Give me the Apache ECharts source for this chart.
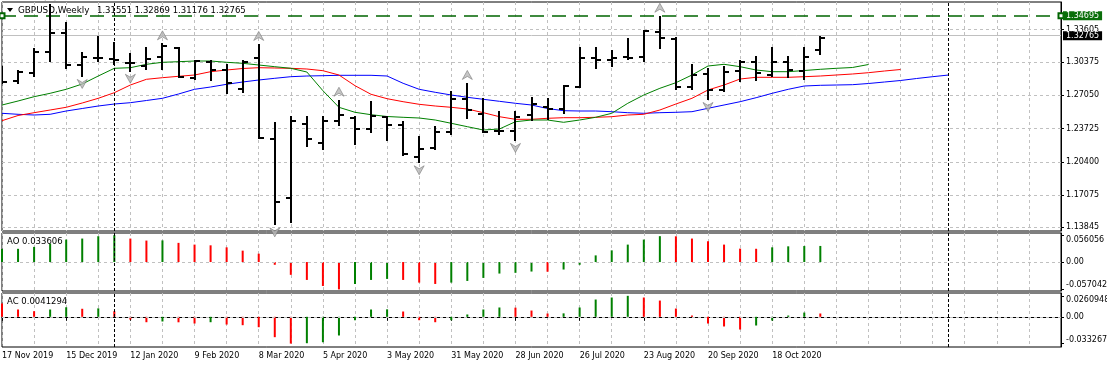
<!DOCTYPE html>
<html><head><meta charset="utf-8">
<script src="https://cdn.jsdelivr.net/npm/echarts@6/dist/echarts.min.js"></script>
<style>html,body{margin:0;padding:0;background:#fff}#c{width:1107px;height:368px}</style>
</head><body><div id="c"></div>
<script>
// ---- categories (weekly bars) ----
const categories = ['17 Nov 2019','24 Nov 2019','1 Dec 2019','8 Dec 2019','15 Dec 2019','22 Dec 2019','29 Dec 2019',
'5 Jan 2020','12 Jan 2020','19 Jan 2020','26 Jan 2020','2 Feb 2020','9 Feb 2020','16 Feb 2020','23 Feb 2020',
'1 Mar 2020','8 Mar 2020','15 Mar 2020','22 Mar 2020','29 Mar 2020','5 Apr 2020','12 Apr 2020','19 Apr 2020','26 Apr 2020',
'3 May 2020','10 May 2020','17 May 2020','24 May 2020','31 May 2020','7 Jun 2020','14 Jun 2020','21 Jun 2020','28 Jun 2020',
'5 Jul 2020','12 Jul 2020','19 Jul 2020','26 Jul 2020','2 Aug 2020','9 Aug 2020','16 Aug 2020','23 Aug 2020','30 Aug 2020',
'6 Sep 2020','13 Sep 2020','20 Sep 2020','27 Sep 2020','4 Oct 2020','11 Oct 2020','18 Oct 2020','25 Oct 2020',
'1 Nov 2020','8 Nov 2020','15 Nov 2020','22 Nov 2020','29 Nov 2020','6 Dec 2020','13 Dec 2020','20 Dec 2020','27 Dec 2020',
'3 Jan 2021','10 Jan 2021','17 Jan 2021','24 Jan 2021','31 Jan 2021','7 Feb 2021','14 Feb 2021','21 Feb 2021'];
const lastBarIndex = 51;

// ---- OHLC ----
const opens  = [1.2897,1.2848,1.2924,1.3141,1.3325,1.3008,1.3075,1.3064,1.3030,1.3000,1.3090,1.3175,1.2882,1.3041,1.2958,1.2764,1.3075,1.2264,1.1674,1.2418,1.2231,1.2450,1.2480,1.2365,1.2484,1.2408,1.2090,1.2175,1.2338,1.2668,1.2515,1.2345,1.2345,1.2508,1.2585,1.2565,1.2785,1.3075,1.3055,1.3090,1.3090,1.3340,1.3268,1.2791,1.2918,1.2758,1.2948,1.3041,1.2908,1.3041,1.2948,1.31551];
const highs  = [1.2991,1.2951,1.3164,1.3610,1.3425,1.3125,1.3285,1.3225,1.3114,1.3174,1.3214,1.3181,1.3047,1.3048,1.3004,1.3051,1.3208,1.2424,1.2484,1.2487,1.2484,1.2650,1.2487,1.2640,1.2490,1.2433,1.2291,1.2391,1.2740,1.2818,1.2668,1.2541,1.2534,1.2674,1.2668,1.2800,1.3174,1.3174,1.3150,1.3267,1.3350,1.3490,1.3275,1.3008,1.2964,1.2984,1.3048,1.3084,1.3174,1.3084,1.3174,1.32869];
const lows   = [1.2831,1.2825,1.2898,1.3050,1.2975,1.2898,1.3050,1.3015,1.2950,1.2964,1.2967,1.2884,1.2870,1.2858,1.2724,1.2740,1.2274,1.1414,1.1440,1.2201,1.2165,1.2405,1.2219,1.2340,1.2258,1.2108,1.2035,1.2164,1.2314,1.2475,1.2335,1.2318,1.2258,1.2458,1.2465,1.2524,1.2785,1.2980,1.3000,1.3064,1.3050,1.3174,1.2764,1.2764,1.2668,1.2747,1.2848,1.2858,1.2898,1.2891,1.2864,1.31176];
const closes = [1.2841,1.2941,1.3134,1.3325,1.3008,1.3085,1.3081,1.3058,1.3024,1.3064,1.3200,1.2890,1.3043,1.2958,1.2830,1.3041,1.2280,1.1640,1.2450,1.2268,1.2450,1.2505,1.2365,1.2498,1.2408,1.2120,1.2164,1.2340,1.2668,1.2558,1.2342,1.2352,1.2485,1.2615,1.2565,1.2798,1.3080,1.3060,1.3077,1.3075,1.3347,1.3280,1.2785,1.2908,1.2758,1.2941,1.3041,1.2924,1.3041,1.2958,1.3091,1.32765];

// ---- Alligator (already shifted forward) ----
const jaw   = [1.25245,1.25145,1.25075,1.25145,1.25475,1.25725,1.25975,1.26175,1.26305,1.26525,1.26745,1.27175,1.27645,1.27875,1.28145,1.28375,1.28575,1.28745,1.28905,1.28975,1.29005,1.29045,1.29045,1.29045,1.28975,1.28245,1.27645,1.27345,1.27075,1.26845,1.26645,1.26445,1.26245,1.26075,1.25725,1.25505,1.25475,1.25475,1.25405,1.25305,1.25245,1.25305,1.25345,1.25405,1.25745,1.26075,1.26405,1.26805,1.27245,1.27645,1.27975,1.28045,1.28075,1.28105,1.28225,1.28375,1.28525,1.28725,1.28905,1.29075];
const teeth = [1.24505,1.25025,1.25305,1.25575,1.25845,1.26275,1.26745,1.27305,1.28075,1.28645,1.28805,1.28945,1.29075,1.29405,1.29575,1.29725,1.29805,1.29775,1.29745,1.29675,1.29505,1.29075,1.28005,1.27145,1.26705,1.26405,1.26145,1.25975,1.25845,1.25675,1.25305,1.24905,1.24645,1.24645,1.24745,1.24805,1.24805,1.24845,1.24905,1.25075,1.25145,1.25575,1.26175,1.26745,1.27575,1.28075,1.28675,1.28845,1.28845,1.28845,1.28905,1.28975,1.29075,1.29175,1.29305,1.29475,1.29625];
const lips  = [1.26075,1.26475,1.26905,1.27245,1.27645,1.28175,1.28975,1.29745,1.29805,1.30145,1.30345,1.30405,1.30475,1.30475,1.30345,1.30245,1.30075,1.29905,1.29745,1.29375,1.27505,1.25845,1.25345,1.25105,1.24925,1.24845,1.24775,1.24575,1.24245,1.23905,1.23575,1.23675,1.24405,1.24575,1.24575,1.24345,1.24575,1.24845,1.25245,1.26245,1.27075,1.27745,1.28305,1.29075,1.29975,1.30145,1.29905,1.29575,1.29405,1.29405,1.29525,1.29645,1.29745,1.29825,1.30125];

// ---- Fractals (bar indices) ----
const fractalUpIdx   = [3,10,16,21,29,41];
const fractalDownIdx = [5,8,17,26,32,44];

// ---- Awesome / Accelerator oscillators ----
const aoValues = [0.0274,0.0276,0.0316,0.0385,0.0469,0.0490,0.0539,0.056056,0.0490,0.0448,0.0452,0.0400,0.0364,0.0349,0.0307,0.0238,0.0175,-0.0057,-0.0267,-0.0373,-0.0499,-0.057042,-0.0457,-0.0373,-0.0352,-0.0373,-0.0429,-0.0457,-0.0429,-0.0394,-0.0331,-0.0240,-0.0225,-0.0198,-0.0202,-0.0156,-0.0057,0.0139,0.0244,0.0364,0.0469,0.0540,0.0537,0.0490,0.0434,0.0364,0.0280,0.0277,0.0307,0.0328,0.0334,0.033606];
const acValues = [0.0165,0.0091,0.0070,0.0091,0.0119,0.0100,0.0105,0.0070,-0.0034,-0.0067,-0.0058,-0.0068,-0.0083,-0.0067,-0.0096,-0.0104,-0.0129,-0.0253,-0.033267,-0.0328,-0.0316,-0.0232,-0.0042,0.0091,0.0093,0.0066,-0.0042,-0.0067,-0.0042,0.0029,0.0091,0.0116,0.0114,0.0078,0.0041,0.0043,0.0116,0.0215,0.0240,0.0260948,0.0240,0.0202,0.0103,0.0016,-0.0083,-0.0120,-0.0158,-0.0108,-0.0046,0.0016,0.0053,0.0041294];
const aoFirstUp = true, acFirstUp = false;

// ---- axis ticks / levels ----
const priceTicks = [1.13845,1.17075,1.20400,1.23725,1.27050,1.30375,1.33605];
const aoTicks = [-0.057042,0,0.056056];
const acTicks = [-0.033267,0,0.0260948];
const hLineLevel = 1.34695;
const lastPrice = 1.32765;
const separatorIdx = [7,59];
const titleSymbol = 'GBPUSD,Weekly';
const titleValues = '1.31551 1.32869 1.31176 1.32765';
const aoTitle = 'AO 0.033606';
const acTitle = 'AC 0.0041294';

// ---------------------------------------------------
const FONT = 'DejaVu Sans';
const GREEN = '#008000', RED = '#ff0000', GRID = '#c0c0c0';
const chart = echarts.init(document.getElementById('c'), null, {renderer:'canvas'});

function colorsFor(vals, firstUp){
  return vals.map((v,i)=> (i===0 ? firstUp : v > vals[i-1]) ? GREEN : RED);
}
const aoColors = colorsFor(aoValues, aoFirstUp);
const acColors = colorsFor(acValues, acFirstUp);

const evenSplit = (i)=> i % 2 === 0;
const labelShown = (i)=> i % 4 === 0 && i <= lastBarIndex;

function xAxisBase(gi, withLabels){
  return {
    type:'category', gridIndex:gi, data:categories, boundaryGap:false,
    axisLine:{show:withLabels, lineStyle:{color:'#000', width:1}},
    axisTick:{show:withLabels, interval:labelShown, length:4, lineStyle:{color:'#000'}},
    axisLabel:{show:withLabels, interval:labelShown, align:'left', margin:5, fontSize:8, fontFamily:FONT, color:'#000'},
    splitLine:{show:true, interval:evenSplit, lineStyle:{color:GRID, type:[3,3], width:1}}
  };
}
function yAxisBase(gi, min, max, ticks, fmt, rich){
  return {
    type:'value', gridIndex:gi, position:'right', min:min, max:max,
    axisLine:{show:true, lineStyle:{color:'#000'}},
    axisTick:{show:true, length:3, customValues:ticks, lineStyle:{color:'#000'}},
    axisLabel:{show:true, customValues:ticks, formatter:fmt, margin:5, fontSize:8, fontFamily:FONT, color:'#000', rich:rich||{}},
    splitLine:{show:gi===0, lineStyle:{color:GRID, type:[3,3], width:1}}
  };
}
const richShift = {
  t:{padding:[9,0,0,0], fontSize:8, fontFamily:FONT, color:'#000'},
  b:{padding:[0,0,8,0], fontSize:8, fontFamily:FONT, color:'#000'}
};
const oscFmt = (v)=> v===0 ? '0.00' : (v>0 ? '{t|'+v+'}' : '{b|'+v+'}');

const separatorLines = (extra)=> ({
  silent:true, symbol:'none', animation:false,
  label:{show:false},
  data: separatorIdx.map(i=>({xAxis:categories[i], lineStyle:{color:'#000', type:[3,2], width:1}})).concat(extra||[])
});

const upPath = 'path://M5,0 L10,9 L5,6 L0,9 Z';
const downPath = 'path://M0,0 L5,3 L10,0 L5,9 Z';

const gridBase = {left:2, width:1059, show:true, borderColor:'#000', borderWidth:1, backgroundColor:'transparent', containLabel:false, outerBoundsMode:'none'};

const option = {
  animation:false,
  backgroundColor:'#fff',
  grid:[
    Object.assign({}, gridBase, {top:2, height:229}),
    Object.assign({}, gridBase, {top:233, height:58}),
    Object.assign({}, gridBase, {top:293, height:54})
  ],
  xAxis:[xAxisBase(0,false), xAxisBase(1,false), xAxisBase(2,true)],
  yAxis:[
    yAxisBase(0, 1.13475, 1.36375, priceTicks, (v)=>v.toFixed(5)),
    yAxisBase(1, -0.0604, 0.0606, aoTicks, oscFmt, richShift),
    yAxisBase(2, -0.0375, 0.0296, acTicks, oscFmt, richShift)
  ],
  series:[
    {type:'line', name:'Jaw', xAxisIndex:0, yAxisIndex:0, data:jaw, symbol:'none', z:3,
      lineStyle:{color:'#0000ff', width:1}, itemStyle:{color:'#0000ff'},
      markLine: separatorLines([
        {yAxis:lastPrice, lineStyle:{color:'#c0c0c0', type:'solid', width:1},
         label:{show:true, position:'end', distance:2, formatter:lastPrice.toFixed(5), color:'#fff', backgroundColor:'#000',
                fontSize:8, fontFamily:FONT, padding:[1,3,0,3]}}
      ])},
    {type:'line', name:'Teeth', xAxisIndex:0, yAxisIndex:0, data:teeth, symbol:'none', z:3,
      lineStyle:{color:'#ff0000', width:1}, itemStyle:{color:'#ff0000'}},
    {type:'line', name:'Lips', xAxisIndex:0, yAxisIndex:0, data:lips, symbol:'none', z:3,
      lineStyle:{color:'#008000', width:1}, itemStyle:{color:'#008000'},
      markLine:{silent:true, animation:false, symbol:['emptyRect','emptyRect'], symbolSize:5,
        data:[{yAxis:hLineLevel, lineStyle:{color:'#006400', type:[14,8], width:1.5},
          label:{show:true, position:'end', distance:2, formatter:hLineLevel.toFixed(5), color:'#fff', backgroundColor:'#0a6e0a',
                 fontSize:8, fontFamily:FONT, padding:[1,3,0,3]}}]}},
    {type:'custom', name:'OHLC', xAxisIndex:0, yAxisIndex:0, z:6, clip:true,
      encode:{x:0, y:[1,2,3,4]},
      data: opens.map((o,i)=>[i, o, highs[i], lows[i], closes[i]]),
      renderItem:function(params, api){
        const i = api.value(0);
        const x = Math.round(api.coord([i, api.value(1)])[0]);
        const yO = Math.round(api.coord([i, api.value(1)])[1]);
        const yH = Math.round(api.coord([i, api.value(2)])[1]);
        const yL = Math.round(api.coord([i, api.value(3)])[1]);
        const yC = Math.round(api.coord([i, api.value(4)])[1]);
        const st = {stroke:'#000', lineWidth:2, fill:null};
        return {type:'group', children:[
          {type:'line', shape:{x1:x, y1:yH-1, x2:x, y2:yL+1}, style:st},
          {type:'line', shape:{x1:x-5, y1:yO, x2:x, y2:yO}, style:st},
          {type:'line', shape:{x1:x, y1:yC, x2:x+5, y2:yC}, style:st}
        ]};
      }},
    {type:'scatter', name:'FractalUp', xAxisIndex:0, yAxisIndex:0, z:5, clip:false,
      data: fractalUpIdx.map(i=>[i, highs[i]]), symbol:upPath, symbolSize:[10,9], symbolOffset:[0,-9],
      itemStyle:{color:'#b8b8b8', borderColor:'#707070', borderWidth:0.7}},
    {type:'scatter', name:'FractalDown', xAxisIndex:0, yAxisIndex:0, z:5, clip:false,
      data: fractalDownIdx.map(i=>[i, lows[i]]), symbol:downPath, symbolSize:[10,9], symbolOffset:[0,8],
      itemStyle:{color:'#b8b8b8', borderColor:'#707070', borderWidth:0.7}},
    {type:'bar', name:'AO', xAxisIndex:1, yAxisIndex:1, barWidth:2, z:4,
      data: aoValues.map((v,i)=>({value:v, itemStyle:{color:aoColors[i]}})),
      markLine: separatorLines([{yAxis:0, lineStyle:{color:GRID, type:[3,3], width:1}}])},
    {type:'bar', name:'AC', xAxisIndex:2, yAxisIndex:2, barWidth:2, z:4,
      data: acValues.map((v,i)=>({value:v, itemStyle:{color:acColors[i]}})),
      markLine: separatorLines([{yAxis:0, lineStyle:{color:GRID, type:[3,3], width:1}}])}
  ],
  graphic:[
    {type:'polygon', shape:{points:[[7,8],[13,8],[10,12]]}, style:{fill:'#000'}, z:10},
    {type:'text', left:18, top:6, z:10, style:{text:titleSymbol, fontSize:8.8, fontFamily:FONT, fill:'#000'}},
    {type:'text', left:97, top:6, z:10, style:{text:titleValues, fontSize:8.5, fontFamily:FONT, fill:'#000'}},
    {type:'text', left:7, top:237, z:10, style:{text:aoTitle, fontSize:8.5, fontFamily:FONT, fill:'#000'}},
    {type:'text', left:7, top:297, z:10, style:{text:acTitle, fontSize:8.5, fontFamily:FONT, fill:'#000'}}
  ]
};
chart.setOption(option);
</script>
</body></html>
